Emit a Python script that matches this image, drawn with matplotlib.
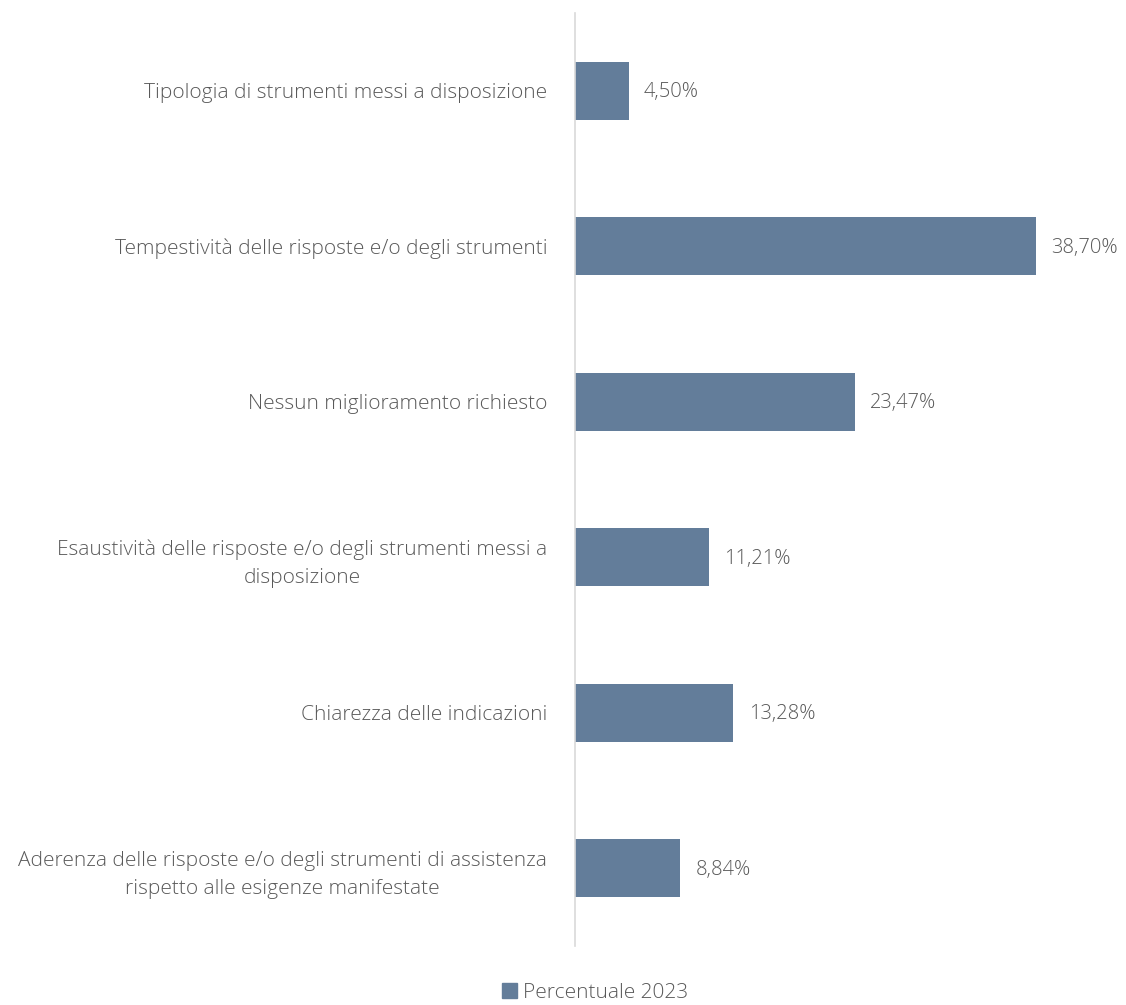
import matplotlib
matplotlib.use("Agg")
import matplotlib.pyplot as plt
from matplotlib.patches import Patch

categories = [
    "Tipologia di strumenti messi a disposizione",
    "Tempestività delle risposte e/o degli strumenti",
    "Nessun miglioramento richiesto",
    "Esaustività delle risposte e/o degli strumenti messi a\ndisposizione",
    "Chiarezza delle indicazioni",
    "Aderenza delle risposte e/o degli strumenti di assistenza\nrispetto alle esigenze manifestate",
]
values = [4.50, 38.70, 23.47, 11.21, 13.28, 8.84]
series_name = "Percentuale 2023"

bar_color = "#637D9A"
text_color = "#595959"
font = ["Open Sans", "DejaVu Sans"]

fig = plt.figure(figsize=(11.26, 10.05), dpi=100)
ax = fig.add_axes([575 / 1126, 1 - 946 / 1005, (1111 - 575) / 1126, (946 - 13) / 1005])

pos = list(range(len(categories)))
ax.barh(pos, values, height=0.37, color=bar_color, zorder=2)
ax.set_ylim(len(categories) - 0.5, -0.5)
ax.set_xlim(0, 45)

for p, v in zip(pos, values):
    ax.text(v + 1.3, p + 0.01, f"{v:.2f}%".replace(".", ","), va="center", ha="left",
            fontsize=14.5, color=text_color, family=font, fontweight="light")

ax.set_yticks(pos)
ax.set_yticklabels(categories, family=font, fontsize=15, color=text_color,
                   fontweight="light", multialignment="center", linespacing=1.55)
ax.tick_params(axis="y", length=0, pad=20)
ax.set_xticks([])
for s in ["top", "right", "bottom"]:
    ax.spines[s].set_visible(False)
ax.spines["left"].set_color("#D9D9D9")
ax.spines["left"].set_linewidth(1.2)

fig.legend(handles=[Patch(color=bar_color, label=series_name)],
           loc="center", bbox_to_anchor=(595 / 1126, 1 - 993 / 1005), frameon=False,
           handlelength=0.7, handleheight=0.7, handletextpad=0.3,
           prop={"family": font, "size": 15, "weight": "light"}, labelcolor=text_color)

fig.savefig("out.png", dpi=100, facecolor="white")
